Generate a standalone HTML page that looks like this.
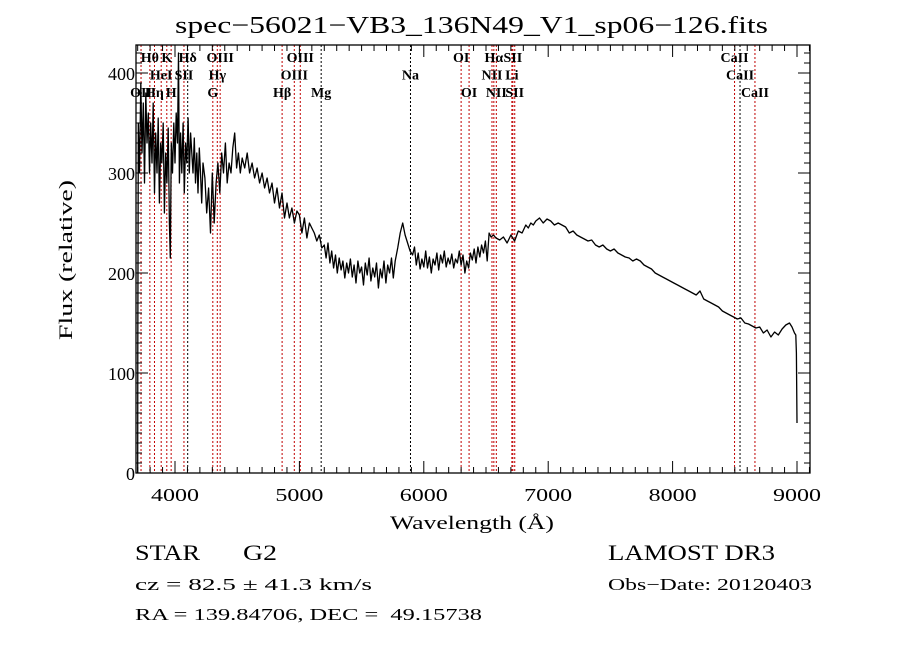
<!DOCTYPE html>
<html><head><meta charset="utf-8"><style>
html,body{margin:0;padding:0;background:#fff;}
svg{display:block;}
text{font-family:"Liberation Serif",serif;fill:#000;white-space:pre;}
</style></head><body>
<svg id="chart" width="900" height="649" viewBox="0 0 900 649" xmlns="http://www.w3.org/2000/svg" xml:space="preserve">
<rect width="900" height="649" fill="#fff"/>
<text x="175" y="33" font-size="24" textLength="593" lengthAdjust="spacingAndGlyphs">spec−56021−VB3_136N49_V1_sp06−126.fits</text>
<text x="390" y="529" font-size="19" textLength="164" lengthAdjust="spacingAndGlyphs">Wavelength (Å)</text>
<text transform="translate(72,340) rotate(-90)" font-size="19" textLength="160" lengthAdjust="spacingAndGlyphs">Flux (relative)</text>
<text x="135" y="560" font-size="22" textLength="65" lengthAdjust="spacingAndGlyphs">STAR</text>
<text x="243" y="560" font-size="22" textLength="34" lengthAdjust="spacingAndGlyphs">G2</text>
<text x="608" y="560" font-size="22" textLength="167" lengthAdjust="spacingAndGlyphs">LAMOST DR3</text>
<text x="135" y="590" font-size="17" textLength="237" lengthAdjust="spacingAndGlyphs">cz = 82.5 ± 41.3 km/s</text>
<text x="608" y="590" font-size="17" textLength="204" lengthAdjust="spacingAndGlyphs">Obs−Date: 20120403</text>
<text x="135" y="620" font-size="17" textLength="347" lengthAdjust="spacingAndGlyphs">RA = 139.84706, DEC =  49.15738</text>
<g id="plot"></g>
</svg>
<script>
const wave = [3700,3701,3705,3715,3725,3735,3745,3755,3765,3775,3785,3795,3805,3815,3825,3835,3845,3855,3865,3875,3885,3895,3905,3915,3925,3935,3945,3955,3962,3970,3980,3990,4000,4010,4020,4028,4035,4045,4055,4065,4075,4085,4095,4105,4115,4125,4135,4145,4155,4165,4175,4185,4195,4205,4215,4225,4240,4255,4270,4285,4300,4315,4330,4345,4360,4375,4390,4405,4420,4435,4450,4465,4480,4495,4510,4525,4540,4560,4580,4600,4620,4640,4660,4680,4700,4720,4740,4760,4780,4800,4820,4840,4860,4880,4900,4920,4940,4960,4980,5000,5020,5040,5060,5080,5100,5120,5140,5160,5180,5200,5215,5230,5245,5260,5275,5290,5305,5320,5335,5350,5365,5380,5395,5410,5425,5440,5455,5470,5485,5500,5515,5530,5545,5560,5575,5590,5605,5620,5635,5650,5665,5680,5695,5710,5725,5740,5755,5770,5790,5810,5830,5850,5870,5890,5910,5925,5940,5955,5970,5985,6000,6015,6030,6045,6060,6075,6090,6105,6120,6135,6150,6165,6180,6195,6210,6225,6240,6255,6270,6285,6300,6315,6330,6345,6360,6375,6390,6405,6420,6435,6450,6465,6480,6495,6510,6525,6540,6560,6580,6610,6640,6670,6700,6730,6760,6790,6820,6840,6860,6880,6900,6930,6960,6990,7020,7050,7080,7110,7140,7170,7200,7230,7260,7290,7320,7350,7380,7410,7440,7470,7500,7530,7560,7590,7620,7650,7680,7710,7740,7770,7800,7830,7860,7890,7920,7950,7980,8010,8040,8070,8100,8130,8160,8190,8220,8250,8280,8310,8340,8370,8400,8430,8460,8490,8520,8550,8580,8610,8640,8670,8700,8730,8760,8790,8820,8850,8880,8910,8940,8960,8980,8990,8995,9000];
const flux = [0,120,350,300,390,320,370,290,380,330,360,300,350,310,370,280,340,300,355,270,330,310,350,260,320,290,345,250,215,330,300,350,310,360,330,420,290,340,300,350,280,330,310,355,300,340,320,300,335,290,320,280,325,300,270,310,295,260,285,240,300,250,290,310,280,320,300,330,290,310,300,325,340,305,320,300,315,305,320,300,310,295,305,290,300,285,295,280,290,270,285,265,280,255,270,255,265,250,262,258,240,255,235,250,245,240,232,238,225,228,215,230,210,222,205,218,200,215,203,212,195,210,200,214,196,208,190,212,200,206,188,210,198,215,192,205,196,210,185,204,195,212,190,208,200,215,195,212,225,240,250,238,230,222,218,226,208,220,204,214,206,222,205,216,200,214,208,220,203,218,210,222,206,215,209,219,205,214,210,222,208,218,200,212,205,220,213,224,210,226,216,228,220,232,212,240,236,238,235,233,236,230,238,232,242,240,248,245,250,248,252,255,250,254,252,248,250,248,246,240,242,238,236,234,232,233,228,226,228,224,222,224,220,218,216,215,212,214,212,208,206,204,200,198,196,194,192,190,188,186,184,182,180,178,182,174,172,170,168,166,162,160,158,156,154,155,150,149,147,145,146,140,143,136,141,138,144,148,150,146,140,138,120,50];
const lineWave = [3727,3798,3835,3889,3934,3969,4072,4102,4304,4340,4363,4861,4959,5007,5175,5893,6300,6364,6548,6563,6583,6708,6716,6731,8498,8542,8662];
const lineKind = [1,1,1,1,1,1,1,0,1,1,1,1,1,1,0,0,1,1,1,1,1,1,1,1,1,0,1];
const labelText = ["Hθ","K","Hδ","OIII","OIII","OI","Hα","SII","CaII","HeI","SII","Hγ","OIII","Na","NII","Li","CaII","OII","Hη","H","G","Hβ","Mg","OI","NII","SII","CaII"];
const labelWave = [3798,3934,4102,4363,5007,6300,6563,6716,8498,3889,4072,4340,4959,5893,6548,6708,8542,3727,3835,3969,4304,4861,5175,6364,6583,6731,8662];
const labelRow = [0,0,0,0,0,0,0,0,0,1,1,1,1,1,1,1,1,2,2,2,2,2,2,2,2,2,2];
const xTicks = [4000,5000,6000,7000,8000,9000];
const yTicks = [0,100,200,300,400];

const L=136,R=810,T=45,B=473;
const xs = w => 175 + (w-4000)*0.1244;
const ys = v => 473 - v*1.0;
const NS="http://www.w3.org/2000/svg";
const g=document.getElementById('plot');
function mk(tag,attrs){const e=document.createElementNS(NS,tag);for(const k in attrs)e.setAttribute(k,attrs[k]);g.appendChild(e);return e;}

lineWave.forEach((w,i)=>{
  const e=mk('line',{x1:xs(w),x2:xs(w),y1:T,y2:B,stroke:lineKind[i]?'#c00000':'#000','stroke-width':1,'stroke-dasharray':'2,2'});
  
  
});
labelText.forEach((t,i)=>{
  const e=mk('text',{x:xs(labelWave[i]),y:62+labelRow[i]*17.5,'font-size':14,'font-weight':'bold','text-anchor':'middle'});
  e.textContent=t;
  
  
});
let d='';
const n=Math.min(wave.length,flux.length);
for(let i=0;i<n;i++){d+=(i?'L':'M')+xs(wave[i]).toFixed(1)+' '+ys(flux[i]).toFixed(1);}
const sp=mk('path',{d:d,fill:'none',stroke:'#000','stroke-width':1.3,'stroke-linejoin':'round'});



const fr=mk('rect',{x:L,y:T,width:R-L,height:B-T,fill:'none',stroke:'#000','stroke-width':1.3});



for(let w=3700;w<=9100;w+=100){const x=xs(w);const maj=w%1000===0;const len=maj?12:6;
  mk('line',{x1:x,x2:x,y1:B,y2:B-len,stroke:'#000','stroke-width':1});
  mk('line',{x1:x,x2:x,y1:T,y2:T+len,stroke:'#000','stroke-width':1});}
for(let v=0;v<=420;v+=10){const y=ys(v);const maj=v%100===0;const len=maj?12:6;
  mk('line',{x1:L,x2:L+len,y1:y,y2:y,stroke:'#000','stroke-width':1});
  mk('line',{x1:R,x2:R-len,y1:y,y2:y,stroke:'#000','stroke-width':1});}
xTicks.forEach(w=>{
  const e=mk('text',{x:xs(w),y:B+28,'font-size':18,'text-anchor':'middle',textLength:48,lengthAdjust:'spacingAndGlyphs'});
  e.textContent=String(w);
  
  
});
yTicks.forEach(v=>{
  const e=mk('text',{x:L-1,y:ys(v)+7,'font-size':18,'text-anchor':'end'});
  e.textContent=String(v);
  
  
});
</script>
</body></html>
